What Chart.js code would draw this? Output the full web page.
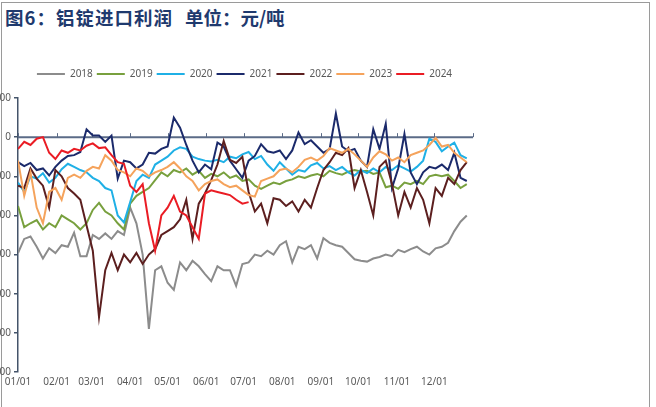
<!DOCTYPE html>
<html>
<head>
<meta charset="utf-8">
<script src="https://cdn.jsdelivr.net/npm/chart.js@4.4.1/dist/chart.umd.min.js"></script>
<style>
html, body { margin: 0; padding: 0; background: #fff; overflow: hidden; }
body { width: 656px; height: 407px; position: relative; }
.frame { position: absolute; left: 1px; top: 2px; width: 649px; height: 430px; border: 1px solid #9a9a9a; box-sizing: border-box; }
.title { position: absolute; left: 5px; top: 8px; margin: 0; font: bold 18.5px/19px "Noto Sans CJK SC"; color: #1f3a6e; white-space: nowrap; letter-spacing: 1px; }
.title span { margin-left: 12px; letter-spacing: 0; }
.wrap { position: absolute; left: -32px; top: 62px; width: 554px; height: 330px; }
</style>
</head>
<body>
<div class="frame"></div>
<div class="title">图6：铝锭进口利润<span>单位：元/吨</span></div>
<div class="wrap"><canvas id="myChart"></canvas></div>
<script>
// day of year for each reading (roughly every 5 days)
var days = [0, 5, 10, 15, 20, 25, 30, 35, 40, 45, 50, 55, 60, 65, 70, 75, 80, 85, 90, 95,
  100, 105, 110, 115, 120, 125, 130, 135, 140, 145, 150, 155, 160, 165, 170, 175, 180, 185, 190, 195,
  200, 205, 210, 215, 220, 225, 230, 235, 240, 245, 250, 255, 260, 265, 270, 275, 280, 285, 290, 295,
  300, 305, 310, 315, 320, 325, 330, 335, 340, 345, 350, 355, 360];

var monthDays = [0, 31, 59, 90, 120, 151, 181, 212, 243, 273, 304, 334];
var monthLabels = ['01/01', '02/01', '03/01', '04/01', '05/01', '06/01', '07/01', '08/01', '09/01', '10/01', '11/01', '12/01'];

var years = ['2018', '2019', '2020', '2021', '2022', '2023', '2024'];

var y2018 = [-1480, -1300, -1270, -1400, -1550, -1420, -1480, -1380, -1400, -1220, -1520, -1520, -1250, -1300, -1230, -1300, -1200, -1250, -900, -1100,
  -1500, -2450, -1700, -1650, -1860, -1950, -1600, -1700, -1580, -1650, -1750, -1840, -1650, -1700, -1700, -1900, -1620, -1600, -1500, -1520,
  -1450, -1500, -1380, -1330, -1600, -1400, -1430, -1380, -1550, -1290, -1350, -1380, -1400, -1480, -1560, -1580, -1590, -1550, -1530, -1500,
  -1520, -1440, -1470, -1430, -1400, -1460, -1500, -1420, -1400, -1350, -1200, -1080, -1000];
var y2019 = [-880, -1150, -1100, -1060, -1180, -1100, -1150, -1000, -1050, -1100, -1180, -1100, -930, -840, -950, -1000, -1100, -1180, -850, -750,
  -700, -650, -550, -450, -500, -420, -450, -400, -480, -430, -520, -470, -500, -450, -520, -490, -560, -540, -620, -660,
  -620, -580, -600, -560, -540, -500, -520, -490, -470, -500, -430, -460, -480, -440, -420, -440, -430, -470, -450, -640,
  -620, -660, -580, -600, -560, -600, -500, -480, -500, -480, -560, -650, -600];
var y2020 = [-580, -700, -500, -530, -460, -580, -520, -410, -340, -380, -420, -450, -520, -560, -650, -680, -1000, -1090, -830, -560,
  -480, -520, -350, -300, -250, -170, -130, -150, -250, -280, -300, -310, -290, -320, -250, -270, -220, -190, -280, -240,
  -350, -430, -320, -400, -480, -420, -440, -360, -330, -400, -370, -420, -380, -450, -490, -420, -460, -400, -450, -380,
  -420, -360, -400, -440, -380, -300, -20, -60, -180, -120, -70, -230, -270];
var y2021 = [-320, -370, -330, -420, -400, -490, -380, -300, -240, -230, -190, 100, 20, 20, -60, 20, -530, -300, -320, -400,
  -350, -200, -210, -150, -120, 250, 120, -100, -300, -450, -350, -410, -70, -120, -300, -410, -520, -300, -240, -90,
  -180, -200, -170, -280, -170, 60, -90, -40, -120, -200, -150, 300, -120, -180, -150, -300, -380, 100, -150, 170,
  -650, -400, 40, -450, -600, -450, -380, -400, -350, -420, -200, -520, -560];
var y2022 = [-620, -650, -400, -530, -620, -900, -420, -500, -650, -720, -800, -1130, -1450, -2300, -1700, -1480, -1700, -1500, -1600, -1480,
  -1620, -1500, -1430, -1250, -1200, -1150, -1050, -800, -1300, -850, -720, -550, -350, -50, -290, -330, -250, -700, -950, -850,
  -1100, -780, -800, -880, -820, -950, -800, -900, -650, -420, -320, -200, -230, -140, -650, -420, -700, -1000, -380, -300,
  -600, -1000, -700, -900, -650, -800, -1100, -650, -750, -520, -600, -420, -320];
var y2023 = [-300, -750, -450, -900, -1100, -700, -650, -800, -520, -480, -520, -430, -380, -400, -230, -300, -420, -450, -500, -400,
  -430, -500, -450, -420, -380, -320, -400, -500, -560, -680, -600, -560, -540, -600, -640, -620, -680, -740, -760, -560,
  -530, -500, -420, -400, -450, -380, -290, -260, -300, -240, -140, -170, -200, -150, -220, -300, -380, -260, -180, -220,
  -300, -260, -320, -230, -200, -170, -100, -10, -120, -100, -200, -260, -320];
var y2024 = [-150, -60, -100, -20, 0, -200, -280, -170, -200, -150, -170, -110, -80, -140, -130, -230, -320, -340, -620, -700,
  -600, -1100, -1450, -1000, -900, -750, -950, -1000, -1150, -1300, -720, -680, -700, -720, -740, -800, -850, -830];

var colors = ['#8c8c8c', '#78a03e', '#1fb0e6', '#1b2a6b', '#5c1f1f', '#f5a35c', '#ea1c24'];
var series = [y2018, y2019, y2020, y2021, y2022, y2023, y2024];

var datasets = series.map(function (vals, i) {
  return {
    label: years[i],
    data: vals.map(function (v, j) { return { x: days[j], y: v }; }),
    borderColor: colors[i],
    backgroundColor: colors[i],
    borderWidth: 2,
    pointRadius: 0,
    tension: 0,
    fill: false,
    order: -i
  };
});

// zero line with small month ticks, like the excel axis
var zeroAxis = {
  id: 'zeroAxis',
  beforeDatasetsDraw: function (chart) {
    var ctx = chart.ctx, area = chart.chartArea, x = chart.scales.x, y = chart.scales.y;
    var py = y.getPixelForValue(0);
    ctx.save();
    ctx.strokeStyle = '#5b6b87';
    ctx.lineWidth = 2;
    ctx.beginPath();
    ctx.moveTo(area.left, py);
    ctx.lineTo(area.right, py);
    ctx.stroke();
    ctx.lineWidth = 1;
    ctx.beginPath();
    monthDays.concat([365]).forEach(function (d) {
      var px = Math.round(x.getPixelForValue(d)) + 0.5;
      ctx.moveTo(px, py);
      ctx.lineTo(px, py - 4);
    });
    ctx.stroke();
    ctx.restore();
  }
};

// a bit more room under the legend, and nudge it right to sit over the plot
var legendSpace = {
  id: 'legendSpace',
  beforeInit: function (chart) {
    var fit = chart.legend.fit;
    chart.legend.fit = function () {
      fit.bind(chart.legend)();
      this.height += 12;
    };
    var draw = chart.legend.draw;
    chart.legend.draw = function () {
      chart.ctx.save();
      chart.ctx.translate(24, 3);
      draw.call(this);
      chart.ctx.restore();
    };
  }
};

Chart.defaults.font.family = '"Noto Sans", sans-serif';

var ctx = document.getElementById('myChart');
var myChart = new Chart(ctx, {
  type: 'line',
  data: { datasets: datasets },
  options: {
    responsive: true,
    maintainAspectRatio: false,
    animation: false,
    layout: { padding: { right: 49 } },
    plugins: {
      tooltip: { enabled: false },
      legend: {
        position: 'top',
        labels: {
          usePointStyle: true,
          pointStyle: 'line',
          pointStyleWidth: 28,
          color: '#595959',
          font: { size: 10 },
          padding: 4,
          sort: function (a, b) { return a.datasetIndex - b.datasetIndex; }
        }
      }
    },
    scales: {
      x: {
        type: 'linear',
        min: 0,
        max: 365,
        afterBuildTicks: function (axis) {
          axis.ticks = monthDays.map(function (v) { return { value: v }; });
        },
        border: { display: false },
        grid: { display: false, drawTicks: false },
        ticks: {
          color: '#595959',
          font: { size: 10 },
          padding: 4,
          maxRotation: 0,
          autoSkip: false,
          callback: function (v) { return monthLabels[monthDays.indexOf(v)]; }
        }
      },
      y: {
        min: -3000,
        max: 500,
        afterFit: function (s) { s.width = 50; },
        border: { color: '#44546a', width: 1.5 },
        grid: { display: true, drawOnChartArea: false, drawTicks: true, tickLength: 4, color: '#44546a', lineWidth: 1.5 },
        ticks: { stepSize: 500, color: '#595959', font: { size: 10 }, padding: 3 }
      }
    }
  },
  plugins: [zeroAxis, legendSpace]
});
</script>
</body>
</html>
